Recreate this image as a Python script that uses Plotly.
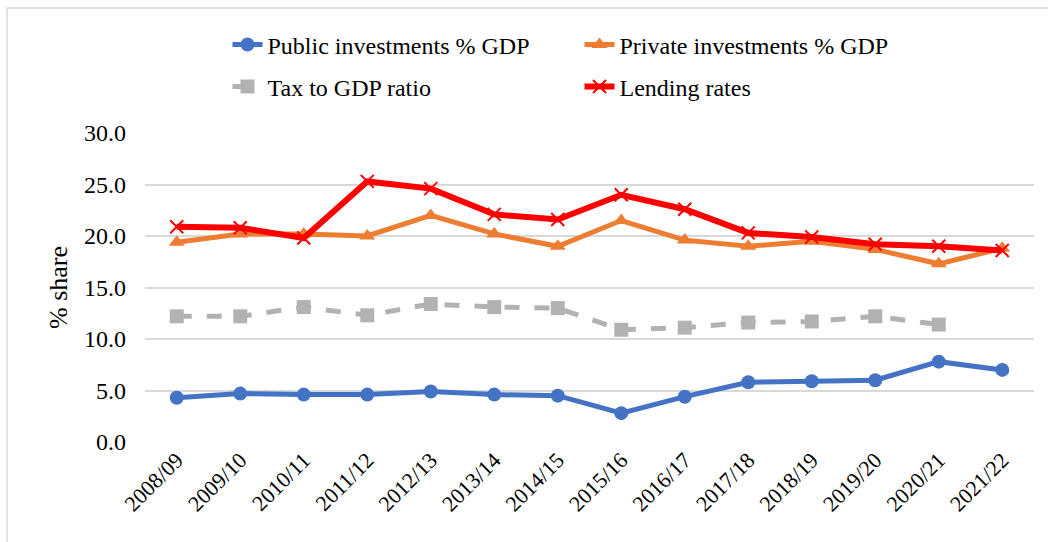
import plotly.graph_objects as go

# Fiscal years and series (% of GDP / % rate)
years = ["2008/09", "2009/10", "2010/11", "2011/12", "2012/13", "2013/14", "2014/15",
         "2015/16", "2016/17", "2017/18", "2018/19", "2019/20", "2020/21", "2021/22"]
public_inv = [4.3, 4.7, 4.6, 4.6, 4.9, 4.6, 4.5, 2.8, 4.4, 5.8, 5.9, 6.0, 7.8, 7.0]
private_inv = [19.4, 20.2, 20.2, 20.0, 22.0, 20.2, 19.0, 21.5, 19.6, 19.0, 19.5, 18.7, 17.3, 18.8]
tax_gdp = [12.2, 12.2, 13.1, 12.3, 13.4, 13.1, 13.0, 10.9, 11.1, 11.6, 11.7, 12.2, 11.4, None]
lending = [20.9, 20.8, 19.8, 25.3, 24.6, 22.1, 21.6, 24.0, 22.6, 20.3, 19.9, 19.2, 19.0, 18.6]

FONT = "Liberation Serif"

fig = go.Figure()
fig.add_trace(go.Scatter(
    x=years, y=public_inv, name="Public investments % GDP", mode="lines+markers",
    line=dict(color="#4472C4", width=5), marker=dict(symbol="circle", size=14, color="#4472C4"),
    legend="legend"))
fig.add_trace(go.Scatter(
    x=years, y=private_inv, name="Private investments % GDP", mode="lines+markers",
    line=dict(color="#ED7D31", width=5), marker=dict(symbol="triangle-up", size=14, color="#ED7D31"),
    legend="legend"))
fig.add_trace(go.Scatter(
    x=years, y=tax_gdp, name="Tax to GDP ratio", mode="lines+markers",
    line=dict(color="#B2B2B4", width=5, dash="dash"),
    marker=dict(symbol="square", size=14, color="#B2B2B4"),
    legend="legend2"))
fig.add_trace(go.Scatter(
    x=years, y=lending, name="Lending rates", mode="lines+markers",
    line=dict(color="#FF0000", width=6),
    marker=dict(symbol="x-thin", size=13, line=dict(color="#FF0000", width=2)),
    legend="legend2"))

legend_style = dict(
    orientation="h", xanchor="left", yanchor="middle", x=0.0928,
    font=dict(family=FONT, size=24, color="#000000"),
    entrywidth=307, entrywidthmode="pixels", bgcolor="rgba(0,0,0,0)",
)

fig.update_layout(
    width=1048, height=542,
    margin=dict(l=145, r=14, t=133, b=100),
    paper_bgcolor="white", plot_bgcolor="white",
    font=dict(family=FONT, color="#000000"),
    legend=dict(legend_style, y=1.285),
    legend2=dict(legend_style, y=1.149),
    xaxis=dict(
        type="category", tickangle=-45, showgrid=False, zeroline=False, showline=False,
        tickfont=dict(family=FONT, size=22), range=[-0.5, 13.5],
    ),
    yaxis=dict(
        range=[0, 30], dtick=5, tickformat=".1f", showgrid=True, gridcolor="#D9D9D9",
        gridwidth=1.5, zeroline=False, showline=False, ticklabelstandoff=18,
        tickfont=dict(family=FONT, size=24),
        title=dict(text="% share", font=dict(family=FONT, size=26), standoff=8),
    ),
    shapes=[dict(
        type="rect", xref="paper", yref="paper",
        x0=(7 - 145) / 889, x1=(1060 - 145) / 889,
        y0=(442 - 560) / 309, y1=(442 - 8) / 309,
        line=dict(color="#D9D9D9", width=1.5), fillcolor="rgba(0,0,0,0)", layer="below",
    )],
)

fig.write_html("out.html")
